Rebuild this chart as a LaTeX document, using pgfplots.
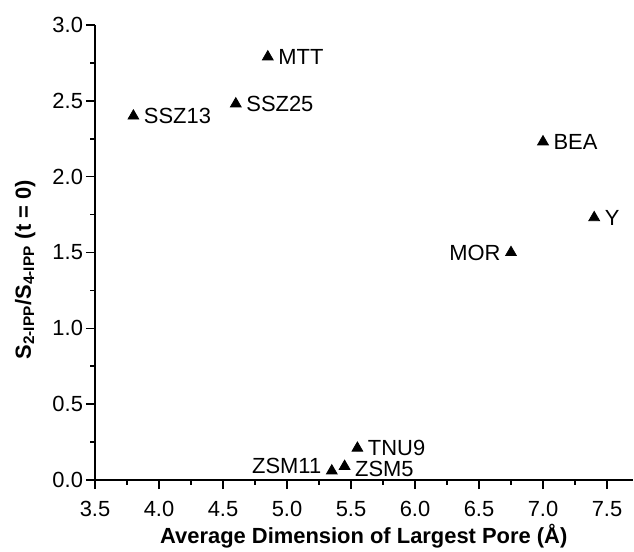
\documentclass[border=0pt]{standalone}
\usepackage{fontspec}
\setmainfont{Liberation Sans}
\usepackage{pgfplots}
\pgfplotsset{compat=1.18}
\begin{document}
\begin{tikzpicture}
\begin{axis}[
  scale only axis, width=268.8bp, height=227.5bp,
  xmin=3.5, xmax=7.7, ymin=0, ymax=3,
  axis x line*=bottom, axis y line*=left,
  axis line style={line width=0.8bp, black},
  xtick={3.5,4,...,7.5}, ytick={0,0.5,...,3},
  minor x tick num=1, minor y tick num=1,
  tick align=outside,
  major tick length=4.5bp, minor tick length=2.3bp,
  every tick/.style={line width=0.8bp, black},
  /pgf/number format/fixed, /pgf/number format/fixed zerofill,
  /pgf/number format/precision=1,
  /pgf/number format/assume math mode=true,
  tick label style={font=\fontsize{11}{13}\selectfont},
  xticklabel style={yshift=-2.5bp},
  yticklabel style={xshift=2bp},
  xlabel={\textbf{Average Dimension of Largest Pore (Å)}},
  ylabel={\textbf{S\textsubscript{2-IPP}/S\textsubscript{4-IPP} (t = 0)}},
  label style={font=\fontsize{11}{13}\selectfont},
  xlabel style={at={(axis description cs:0.5,0)}, anchor=center, yshift=-28bp},
  ylabel style={at={(axis description cs:-0.13,0.462)}, anchor=center},
  clip=false,
]
\addplot[only marks, mark=triangle*, mark size=3.1bp, black,
  point meta=explicit symbolic, nodes near coords,
  every node near coord/.append style={anchor=west, inner sep=0.5bp, xshift=4.6bp, font=\fontsize{11}{13}\selectfont}]
coordinates {
 (3.8,2.40) [SSZ13]
 (4.6,2.48) [SSZ25]
 (4.85,2.79) [MTT]
 (7.0,2.23) [BEA]
 (7.4,1.73) [Y]
 (5.55,0.21) [TNU9]
};
\addplot[only marks, mark=triangle*, mark size=3.1bp, black,
  point meta=explicit symbolic, nodes near coords,
  every node near coord/.append style={anchor=west, inner sep=0.5bp, xshift=4.6bp, yshift=-1.2bp, font=\fontsize{11}{13}\selectfont}]
coordinates {
 (5.45,0.09) [ZSM5]
};
\addplot[only marks, mark=triangle*, mark size=3.1bp, black,
  point meta=explicit symbolic, nodes near coords,
  every node near coord/.append style={anchor=east, inner sep=0.5bp, xshift=-4.6bp, font=\fontsize{11}{13}\selectfont}]
coordinates {
 (6.75,1.50) [MOR]
};
\addplot[only marks, mark=triangle*, mark size=3.1bp, black,
  point meta=explicit symbolic, nodes near coords,
  every node near coord/.append style={anchor=east, inner sep=0.5bp, xshift=-4.6bp, yshift=2.5bp, font=\fontsize{11}{13}\selectfont}]
coordinates {
 (5.35,0.06) [ZSM11]
};
\end{axis}
\pgfresetboundingbox
\path ([shift={(-47.5bp,-36bp)}]current axis.south west) rectangle ([shift={(0.7bp,12.5bp)}]current axis.north east);
\end{tikzpicture}
\end{document}
